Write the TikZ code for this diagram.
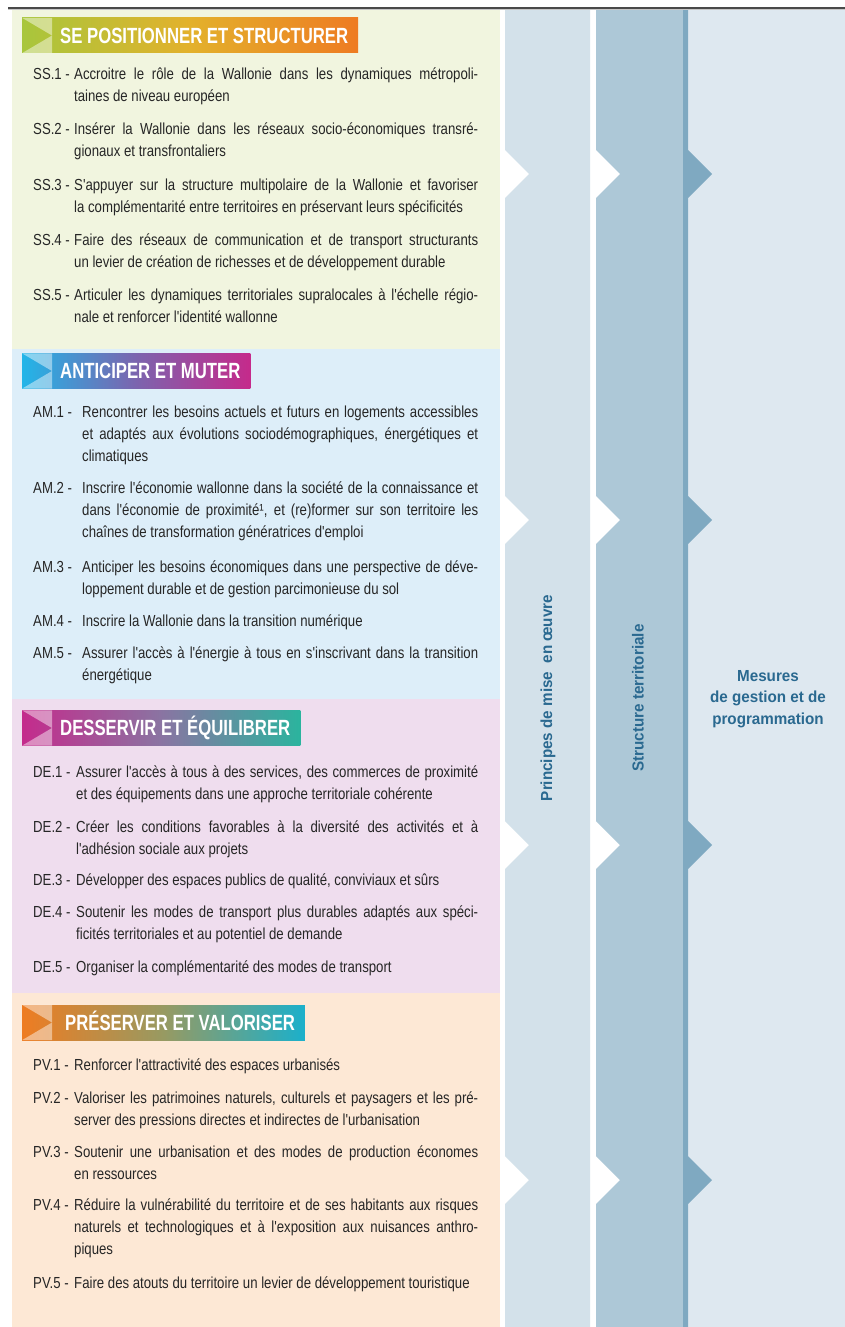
\documentclass[tikz,border=0pt]{standalone}
\usepackage{fontspec}
\setmainfont{Liberation Sans}
\newfontfamily\bodyfont{Liberation Sans}[FakeStretch=0.825]
\newfontfamily\bannerfont{Liberation Sans}[FakeStretch=0.76]
\newfontfamily\columnfont{Liberation Sans}[FakeStretch=0.95]
\tolerance=9999
\hyphenpenalty=10000

% Couleurs
\definecolor{ssbg}{HTML}{F1F5DF}
\definecolor{ambg}{HTML}{DDEEF9}
\definecolor{debg}{HTML}{EFDDEE}
\definecolor{pvbg}{HTML}{FDE8D5}
\definecolor{colone}{HTML}{D3E1EA}
\definecolor{coltwo}{HTML}{ADC8D7}
\definecolor{coltwodark}{HTML}{7FA9C1}
\definecolor{colthree}{HTML}{DEE8F0}
\definecolor{coltext}{HTML}{2A6990}
\definecolor{bodytext}{HTML}{262626}
\definecolor{topline}{HTML}{4A4A4A}
\definecolor{ssleft}{HTML}{A8C63C}
\definecolor{ssmid}{HTML}{E3B12C}
\definecolor{ssright}{HTML}{EE7B22}
\definecolor{amleft}{HTML}{22B5E8}
\definecolor{ammid}{HTML}{7C64AE}
\definecolor{amright}{HTML}{C52A8B}
\definecolor{deleft}{HTML}{C42B8C}
\definecolor{demid}{HTML}{8A74A2}
\definecolor{deright}{HTML}{2BB49E}
\definecolor{pvleft}{HTML}{EE7C22}
\definecolor{pvmid}{HTML}{979A62}
\definecolor{pvright}{HTML}{1BB0CB}

\begin{document}
\begin{tikzpicture}[x=1pt, y=-1pt]
% Définition de styles
\tikzset{
  objlabel/.style={anchor=base west, inner sep=0pt, text=bodytext, font=\bodyfont\fontsize{16}{22}\selectfont},
  objtext/.style={objlabel, text width=#1, align=justify},
  banner/.style={anchor=west, inner sep=0pt, inner xsep=10pt, minimum height=35pt, text height=15.5pt, text depth=0pt, text=white, font=\bannerfont\bfseries\fontsize{22}{24}\selectfont},
  palecorner/.style={white, opacity=0.45},
  coltitle/.style={inner sep=0pt, text=coltext, font=\columnfont\bfseries\fontsize{16}{21.5}\selectfont}
}
\useasboundingbox (0,0) rectangle (845,1327);
\fill[white] (0,0) rectangle (845,1327);

% Panneaux thématiques
\fill[ssbg] (12,10) rectangle (500,349);
\fill[ambg] (12,349) rectangle (500,699);
\fill[debg] (12,699) rectangle (500,993);
\fill[pvbg] (12,993) rectangle (500,1327);

% Colonnes de droite
\fill[colthree] (688,10) rectangle (845,1327);
\fill[colone] (505,10) -- (590,10) -- (590,1327) -- (505,1327)
  -- (505,1204) -- (529,1180) -- (505,1156)
  -- (505,869) -- (529,845) -- (505,821)
  -- (505,544) -- (529,520) -- (505,496)
  -- (505,198) -- (529,174) -- (505,150) -- cycle;
\fill[coltwo] (596,10) -- (683,10) -- (683,1327) -- (596,1327)
  -- (596,1204) -- (620,1180) -- (596,1156)
  -- (596,869) -- (620,845) -- (596,821)
  -- (596,544) -- (620,520) -- (596,496)
  -- (596,198) -- (620,174) -- (596,150) -- cycle;
\fill[coltwodark] (683,10) -- (688,10)
  -- (688,150) -- (712,174) -- (688,198)
  -- (688,496) -- (712,520) -- (688,544)
  -- (688,821) -- (712,845) -- (688,869)
  -- (688,1156) -- (712,1180) -- (688,1204)
  -- (688,1327) -- (683,1327) -- cycle;

% Filet du haut
\draw[gray!45, line width=1pt] (8,10) -- (845,10);
\draw[topline, line width=2.2pt] (8,8) -- (845,8);

% Titres des colonnes
\node[coltitle, rotate=90] (principes) at (548,698) {Principes de mise\ \ en œuvre};
\node[coltitle, rotate=90] (structure) at (638,698) {Structure territoriale};
\node[coltitle, align=center] (mesures) at (768,699) {Mesures\\de gestion et de\\programmation};

% Se positionner et structurer
\node[banner, left color=ssleft, right color=ssright, middle color=ssmid] (ss_banner) at (22,35.5) {\hspace*{28pt}SE POSITIONNER ET STRUCTURER};
\fill[palecorner] (ss_banner.north west) -- ([xshift=30pt]ss_banner.north west) -- ([xshift=30pt]ss_banner.west) -- cycle;
\fill[palecorner] (ss_banner.south west) -- ([xshift=30pt]ss_banner.south west) -- ([xshift=30pt]ss_banner.west) -- cycle;

\node[objlabel] (ss1_lbl) at (33,80) {SS.1 -};
\node[objtext=404pt] (ss1) at (74,80) {Accroitre le rôle de la Wallonie dans les dynamiques métropoli-\linebreak taines de niveau européen};
\node[objlabel] (ss2_lbl) at (33,135) {SS.2 -};
\node[objtext=404pt] (ss2) at (74,135) {Insérer la Wallonie dans les réseaux socio-économiques transré-\linebreak gionaux et transfrontaliers};
\node[objlabel] (ss3_lbl) at (33,190) {SS.3 -};
\node[objtext=404pt] (ss3) at (74,190) {S'appuyer sur la structure multipolaire de la Wallonie et favoriser\linebreak la complémentarité entre territoires en préservant leurs spécificités};
\node[objlabel] (ss4_lbl) at (33,245) {SS.4 -};
\node[objtext=404pt] (ss4) at (74,245) {Faire des réseaux de communication et de transport structurants\linebreak un levier de création de richesses et de développement durable};
\node[objlabel] (ss5_lbl) at (33,300) {SS.5 -};
\node[objtext=404pt] (ss5) at (74,300) {Articuler les dynamiques territoriales supralocales à l'échelle régio-\linebreak nale et renforcer l'identité wallonne};

% Anticiper et muter
\node[banner, left color=amleft, right color=amright, middle color=ammid] (am_banner) at (22,371) {\hspace*{28pt}ANTICIPER ET MUTER};
\fill[palecorner] (am_banner.north west) -- ([xshift=30pt]am_banner.north west) -- ([xshift=30pt]am_banner.west) -- cycle;
\fill[palecorner] (am_banner.south west) -- ([xshift=30pt]am_banner.south west) -- ([xshift=30pt]am_banner.west) -- cycle;

\node[objlabel] (am1_lbl) at (33,417) {AM.1 -};
\node[objtext=396pt] (am1) at (82,417) {Rencontrer les besoins actuels et futurs en logements accessibles\linebreak et adaptés aux évolutions sociodémographiques, énergétiques et\linebreak climatiques};
\node[objlabel] (am2_lbl) at (33,493) {AM.2 -};
\node[objtext=396pt] (am2) at (82,493) {Inscrire l'économie wallonne dans la société de la connaissance et\linebreak dans l'économie de proximité¹, et (re)former sur son territoire les\linebreak chaînes de transformation génératrices d'emploi};
\node[objlabel] (am3_lbl) at (33,572) {AM.3 -};
\node[objtext=396pt] (am3) at (82,572) {Anticiper les besoins économiques dans une perspective de déve-\linebreak loppement durable et de gestion parcimonieuse du sol};
\node[objlabel] (am4_lbl) at (33,626) {AM.4 -};
\node[objtext=396pt] (am4) at (82,626) {Inscrire la Wallonie dans la transition numérique};
\node[objlabel] (am5_lbl) at (33,658) {AM.5 -};
\node[objtext=396pt] (am5) at (82,658) {Assurer l'accès à l'énergie à tous en s'inscrivant dans la transition\linebreak énergétique};

% Desservir et équilibrer
\node[banner, left color=deleft, right color=deright, middle color=demid] (de_banner) at (22,728) {\hspace*{28pt}DESSERVIR ET ÉQUILIBRER};
\fill[palecorner] (de_banner.north west) -- ([xshift=30pt]de_banner.north west) -- ([xshift=30pt]de_banner.west) -- cycle;
\fill[palecorner] (de_banner.south west) -- ([xshift=30pt]de_banner.south west) -- ([xshift=30pt]de_banner.west) -- cycle;

\node[objlabel] (de1_lbl) at (33,777) {DE.1 -};
\node[objtext=402pt] (de1) at (76,777) {Assurer l'accès à tous à des services, des commerces de proximité\linebreak et des équipements dans une approche territoriale cohérente};
\node[objlabel] (de2_lbl) at (33,832) {DE.2 -};
\node[objtext=402pt] (de2) at (76,832) {Créer les conditions favorables à la diversité des activités et à\linebreak l'adhésion sociale aux projets};
\node[objlabel] (de3_lbl) at (33,885) {DE.3 -};
\node[objtext=402pt] (de3) at (76,885) {Développer des espaces publics de qualité, conviviaux et sûrs};
\node[objlabel] (de4_lbl) at (33,917) {DE.4 -};
\node[objtext=402pt] (de4) at (76,917) {Soutenir les modes de transport plus durables adaptés aux spéci-\linebreak ficités territoriales et au potentiel de demande};
\node[objlabel] (de5_lbl) at (33,972) {DE.5 -};
\node[objtext=402pt] (de5) at (76,972) {Organiser la complémentarité des modes de transport};

% Préserver et valoriser
\node[banner, left color=pvleft, right color=pvright, middle color=pvmid] (pv_banner) at (22,1022.5) {\hspace*{33pt}PRÉSERVER ET VALORISER};
\fill[palecorner] (pv_banner.north west) -- ([xshift=30pt]pv_banner.north west) -- ([xshift=30pt]pv_banner.west) -- cycle;
\fill[palecorner] (pv_banner.south west) -- ([xshift=30pt]pv_banner.south west) -- ([xshift=30pt]pv_banner.west) -- cycle;

\node[objlabel] (pv1_lbl) at (33,1070) {PV.1 -};
\node[objtext=404pt] (pv1) at (74,1070) {Renforcer l'attractivité des espaces urbanisés};
\node[objlabel] (pv2_lbl) at (33,1103) {PV.2 -};
\node[objtext=404pt] (pv2) at (74,1103) {Valoriser les patrimoines naturels, culturels et paysagers et les pré-\linebreak server des pressions directes et indirectes de l'urbanisation};
\node[objlabel] (pv3_lbl) at (33,1157) {PV.3 -};
\node[objtext=404pt] (pv3) at (74,1157) {Soutenir une urbanisation et des modes de production économes\linebreak en ressources};
\node[objlabel] (pv4_lbl) at (33,1210) {PV.4 -};
\node[objtext=404pt] (pv4) at (74,1210) {Réduire la vulnérabilité du territoire et de ses habitants aux risques\linebreak naturels et technologiques et à l'exposition aux nuisances anthro-\linebreak piques};
\node[objlabel] (pv5_lbl) at (33,1288) {PV.5 -};
\node[objtext=404pt] (pv5) at (74,1288) {Faire des atouts du territoire un levier de développement touristique};
\end{tikzpicture}
\end{document}
